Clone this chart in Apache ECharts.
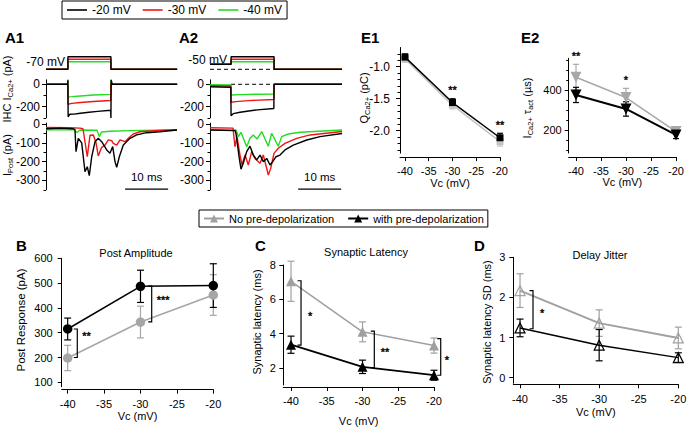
<!DOCTYPE html>
<html><head><meta charset="utf-8">
<script src="https://cdn.jsdelivr.net/npm/echarts@6/dist/echarts.min.js"></script>
<style>html,body{margin:0;padding:0;background:#fff}#c{width:688px;height:428px}</style>
</head><body><div id="c"></div>
<script>
// ---------------- DATA ----------------
// Panel A1 (time ms, value)
const a1Volt20 = [[0,-70],[5.1,-70],[5.1,-20],[15.1,-20],[15.1,-70],[30.5,-70]];
const a1Volt30 = [[0,-70],[5.1,-70],[5.1,-30],[15.1,-30],[15.1,-70],[30.5,-70]];
const a1Volt40 = [[0,-70],[5.1,-70],[5.1,-40],[15.1,-40],[15.1,-70],[30.5,-70]];
const a1Ica20 = [[0,0],[5.05,0],[5.1,40],[5.15,-290],[5.5,-268],[6.5,-266],[8,-258],[10,-250],[12,-242],[15.05,-232],[15.1,-300],[15.15,38],[15.4,0],[30.5,0]];
const a1Ica30 = [[0,0],[5.05,0],[5.1,-178],[6,-170],[8,-162],[11,-153],[15.05,-145],[15.1,0],[30.5,0]];
const a1Ica40 = [[0,0],[5.05,0],[5.1,30],[5.15,-112],[6,-110],[8,-104],[11,-96],[15.05,-90],[15.1,42],[15.2,0],[30.5,0]];
const a1Post20 = [[0,-25],[3.26,-22],[6.28,-25],[6.74,-30],[6.98,-147],[7.51,-76],[8.3,-100],[9.07,-254],[9.6,-227],[10.07,-275],[10.63,-174],[11.4,-94],[12.16,-76],[12.95,-94],[14.12,-138],[14.88,-156],[15.51,-120],[16.05,-200],[16.44,-230],[17.05,-174],[17.98,-112],[19.53,-76],[21.09,-58],[23.42,-46],[26.51,-41],[30.47,-32]];
const a1Post30 = [[0,-18],[5.58,-20],[7.9,-22],[8.6,-25],[9.6,-174],[10.23,-60],[11.0,-58],[11.63,-100],[12.16,-170],[12.95,-124],[13.72,-112],[14.49,-84],[15.28,-88],[15.65,-103],[16.44,-112],[17.21,-84],[18.37,-94],[19.14,-76],[20.3,-53],[21.86,-41],[25.35,-36],[30.47,-30]];
const a1Post40 = [[0,-30],[6.51,-30],[7.21,-45],[7.9,-32],[11.86,-33],[12.4,-67],[12.9,-42],[14.88,-38],[19.53,-35],[30.47,-30]];
// Panel A2
const a2Volt20 = [[0,-50],[4.9,-50],[4.9,-20],[14.9,-20],[14.9,-70],[30.7,-70]];
const a2Volt30 = [[0,-50],[4.9,-50],[4.9,-30],[14.9,-30],[14.9,-70],[30.7,-70]];
const a2Volt40 = [[0,-50],[4.9,-50],[4.9,-40],[14.9,-40],[14.9,-70],[30.7,-70]];
const a2VoltRef = [[0,-70],[14.9,-70]];
const a2IcaRef = [[4.9,0],[14.9,0]];
const a2Ica20 = [[0,-22],[4.85,-26],[4.9,-280],[5.4,-262],[7,-250],[9,-238],[11,-228],[14.85,-216],[14.9,0],[30.7,0]];
const a2Ica30 = [[0,-12],[4.85,-15],[4.9,-160],[6,-155],[9,-146],[14.85,-136],[14.9,0],[30.7,0]];
const a2Ica40 = [[0,-4],[4.85,-6],[4.9,-96],[7,-92],[11,-89],[14.85,-87],[14.9,0],[30.7,0]];
const a2Post20 = [[0,-32],[5.81,-35],[6.05,-50],[6.81,-183],[7.21,-240],[7.74,-209],[8.53,-147],[9.3,-118],[10.07,-165],[10.86,-191],[11.63,-165],[12.4,-200],[13.19,-183],[13.95,-218],[14.58,-200],[15.35,-174],[16.28,-165],[17.44,-138],[19.37,-112],[22.49,-85],[25.58,-67],[30.7,-50]];
const a2Post30 = [[0,-20],[5.35,-22],[5.81,-121],[6.28,-67],[6.98,-165],[7.44,-218],[8.14,-165],[8.91,-218],[9.7,-147],[10.47,-183],[11.63,-209],[12.4,-165],[13.56,-271],[14.12,-236],[14.88,-156],[15.88,-129],[17.44,-103],[20.16,-76],[23.26,-58],[30.7,-40]];
const a2Post40 = [[0,-30],[6.05,-32],[6.58,-67],[7.21,-44],[8.53,-121],[9.3,-76],[10.07,-58],[10.93,-80],[12.02,-40],[13.56,-118],[14.35,-49],[15.88,-118],[16.67,-67],[18.21,-53],[20.93,-44],[30.7,-32]];
const scaleBarA1 = [[18.4,-346]];
const scaleBarA2 = [[20.5,-346]];
const scaleBarLen = 10;
const icaLabelTicks = [0,-200], icaMinorTicks = [-100,-300];
const postLabelTicks = [0,-100,-200,-300], postMinorTicks = [-50,-150,-250,-350];

// Shared x (Vc)
const vcLevels = [-40,-30,-20];
const vcTicks = [-40,-35,-30,-25,-20];

// E1  Q Ca2+ (pC)
const e1WithMean = [-0.85,-1.56,-2.11], e1WithErr = [0.05,0.06,0.07];
const e1NoMean = [-0.88,-1.60,-2.17], e1NoErr = [0.05,0.06,0.07];
const e1Ticks = [-1.0,-1.5,-2.0];
const e1Minor = [-0.8,-0.9,-1.1,-1.2,-1.3,-1.4,-1.6,-1.7,-1.8,-1.9,-2.1,-2.2,-2.3];
const e1StarX = [-30,-20], e1StarY = [-1.31,-1.86], e1StarText = ['**','**'];
// E2  tau act (us)
const e2NoMean = [463,362,192], e2NoErr = [65,46,15];
const e2WithMean = [375,305,175], e2WithErr = [38,36,18];
const e2Ticks = [200,400];
const e2Minor = [100,150,250,300,350,450,500,550];
const e2StarX = [-40,-30], e2StarY = [585,465], e2StarText = ['**','*'];
// B  Post amplitude (pA)
const bWithMean = [315,487,490], bWithErr = [44,65,88];
const bNoMean = [198,343,452], bNoErr = [51,64,82];
const bTicks = [100,200,300,400,500,600];
const bBrX = [-38.68,-28.46], bBrTop = [315,488], bBrBot = [200,344];
const bStarX = [-37.4,-26.9], bStarY = [299,445], bStarText = ['**','***'];
// C  Synaptic latency (ms)
const cNoMean = [7.05,4.1,3.3], cNoErr = [1.17,0.58,0.44];
const cWithMean = [3.35,2.06,1.57], cWithErr = [0.5,0.39,0.29];
const cTicks = [2,4,6,8];
const cBrX = [-38.6,-28.35,-19.06], cBrTop = [7.08,4.14,3.7], cBrBot = [3.33,2.02,1.57];
const cStarX = [-37.34,-26.85,-18.18], cStarY = [5.2,3.09,2.63], cStarText = ['*','**','*'];
// D  Delay jitter (ms)
const dNoMean = [2.17,1.36,0.99], dNoErr = [0.42,0.33,0.27];
const dWithMean = [1.24,0.81,0.5], dWithErr = [0.22,0.39,0.12];
const dTicks = [0,1,2,3];
const dBrX = [-38.36], dBrTop = [2.17], dBrBot = [1.22];
const dStarX = [-37.22], dStarY = [1.69], dStarText = ['*'];

// ---------------- STYLE HELPERS ----------------
const F = '"Liberation Sans", Arial, sans-serif';
const BLACK = '#000', GREY = '#a0a0a0', RED = '#f01515', GREEN = '#22dd22';

function G(l,t,w,h){return {left:l,top:t,width:w,height:h,containLabel:false,outerBoundsMode:'none'};}
const grids = [
  G(46,56.3,133.3,13.5), G(46,79.8,133.3,38.1), G(46,123.1,133.3,66.7),
  G(210,56.3,133.3,13.5), G(210,79.8,133.3,38.1), G(210,123.1,133.3,66.7),
  G(400,47.5,100,105.6), G(568.7,58.3,107.3,94.7),
  G(61.7,258.3,151.6,128.4), G(283.3,265,150.7,120), G(513.3,257.3,165,126)
];
function hidX(gi){return {type:'value',gridIndex:gi,min:0,max:31,show:false};}
function hidY(gi){return {type:'value',gridIndex:gi,min:-72,max:-18,show:false};}
function vcX(gi,min,offset,margin,gap){return {type:'value',gridIndex:gi,position:'bottom',min:min,max:-20,offset:offset,
  axisLine:{show:true,onZero:false,lineStyle:{color:'#000',width:1}},
  axisTick:{show:true,length:4,customValues:vcTicks,lineStyle:{color:'#000',width:1}},
  axisLabel:{show:true,customValues:vcTicks,margin:margin,color:'#000',fontSize:11,fontFamily:F},
  splitLine:{show:false},name:'Vc (mV)',nameLocation:'middle',nameGap:gap,
  nameTextStyle:{color:'#000',fontSize:11,fontFamily:F}};}
function yAx(gi,min,max,ticks,margin,fs,fmt){return {type:'value',gridIndex:gi,position:'left',min:min,max:max,
  axisLine:{show:true,onZero:false,lineStyle:{color:'#000',width:1}},
  axisTick:{show:true,length:4,customValues:ticks,lineStyle:{color:'#000',width:1}},
  axisLabel:{show:true,customValues:ticks,margin:margin,color:'#000',fontSize:fs,fontFamily:F,formatter:fmt},
  splitLine:{show:false}};}
function minY(gi,min,max,ticks){return {type:'value',gridIndex:gi,position:'left',min:min,max:max,
  axisLine:{show:false,onZero:false},axisTick:{show:true,length:2.5,customValues:ticks,lineStyle:{color:'#000',width:1}},
  axisLabel:{show:false},splitLine:{show:false}};}

const xAxes = [hidX(0),hidX(1),hidX(2),hidX(3),hidX(4),hidX(5),
  vcX(6,-41.05,4,8,19), vcX(7,-41.46,4,8,19), vcX(8,-40.82,3,8.5,20), vcX(9,-41.08,2,8,28), vcX(10,-40.85,1,9,22)];
const yAxes = [
  hidY(0), yAx(1,-300,40,icaLabelTicks,6,12), yAx(2,-350,5,postLabelTicks,6,12),
  hidY(3), yAx(4,-300,40,icaLabelTicks,6,12), yAx(5,-350,5,postLabelTicks,6,12),
  yAx(6,-2.35,-0.7,e1Ticks,10,12,v=>v.toFixed(1)), yAx(7,85,558,e2Ticks,7,11),
  yAx(8,82.3,600,bTicks,9,11), yAx(9,1,8,cTicks,7.5,11), yAx(10,-0.14,3,dTicks,8,11),
  minY(1,-300,40,icaMinorTicks), minY(2,-350,5,postMinorTicks),
  minY(4,-300,40,icaMinorTicks), minY(5,-350,5,postMinorTicks),
  minY(6,-2.35,-0.7,e1Minor), minY(7,85,558,e2Minor)
];

function trace(name,color,data,ai,dash,w){return {type:'line',name:name,data:data,xAxisIndex:ai,yAxisIndex:ai,
  showSymbol:false,symbol:'none',silent:true,animation:false,clip:false,
  lineStyle:{color:color,width:w||1.4,type:dash?[4,3]:'solid'},itemStyle:{color:color},emphasis:{disabled:true}};}
function pts(ys){return vcLevels.map((x,i)=>[x,ys[i]]);}
function dline(name,ys,ai,color,symbol,size,lw,opt){opt=opt||{};return {type:'line',name:name,data:pts(ys),xAxisIndex:ai,yAxisIndex:ai,
  symbol:symbol,symbolSize:size,symbolRotate:opt.rot||0,showSymbol:true,silent:true,animation:false,clip:false,z:opt.z||4,
  lineStyle:{color:opt.lineColor||color,width:lw},
  itemStyle:opt.open?{color:'rgba(255,255,255,0)',borderColor:color,borderWidth:1.2}:{color:color,borderWidth:0},
  emphasis:{disabled:true}};}
function errs(ys,es,ai,color,cap,z){return {type:'custom',xAxisIndex:ai,yAxisIndex:ai,silent:true,animation:false,clip:false,z:z||3,
  data:vcLevels.map((x,i)=>[x,ys[i],es[i]]),encode:{x:0,y:1},
  renderItem:function(p,api){const x=api.value(0),m=api.value(1),e=api.value(2);
    const a=api.coord([x,m+e]),b=api.coord([x,m-e]);const s={stroke:color,lineWidth:1.2,fill:null};
    return {type:'group',children:[
      {type:'line',shape:{x1:a[0],y1:a[1],x2:b[0],y2:b[1]},style:s},
      {type:'line',shape:{x1:a[0]-cap,y1:a[1],x2:a[0]+cap,y2:a[1]},style:s},
      {type:'line',shape:{x1:b[0]-cap,y1:b[1],x2:b[0]+cap,y2:b[1]},style:s}]};}};}
function brackets(xs,tops,bots,ai){return {type:'custom',xAxisIndex:ai,yAxisIndex:ai,silent:true,animation:false,clip:false,z:5,
  data:xs.map((x,i)=>[x,tops[i],bots[i]]),encode:{x:0,y:1},
  renderItem:function(p,api){const a=api.coord([api.value(0),api.value(1)]),b=api.coord([api.value(0),api.value(2)]);
    return {type:'polyline',shape:{points:[[a[0]-3.5,a[1]],[a[0],a[1]],[b[0],b[1]],[b[0]-3.5,b[1]]]},style:{stroke:'#000',lineWidth:1.2,fill:null}};}};}
function txtStyle(text,font){return {text:text,fill:'#000',textFill:'#000',font:font,align:'center',verticalAlign:'middle',textAlign:'center',textVerticalAlign:'middle'};}
function stars(xs,ys,texts,ai){return {type:'scatter',xAxisIndex:ai,yAxisIndex:ai,silent:true,animation:false,clip:false,z:6,
  symbol:'circle',symbolSize:0.01,itemStyle:{color:'rgba(0,0,0,0)'},
  data:xs.map((x,i)=>[x,ys[i]]),
  label:{show:true,position:'inside',offset:[0,3],formatter:function(p){return texts[p.dataIndex];},
    color:'#000',fontSize:11,fontFamily:F,textBorderColor:'#000',textBorderWidth:0.6},
  emphasis:{disabled:true}};}
function scaleBar(bar,ai){return {type:'custom',xAxisIndex:ai,yAxisIndex:ai,silent:true,animation:false,clip:false,z:6,
  itemStyle:{color:'#000'},
  data:bar,encode:{x:0,y:1},
  renderItem:function(p,api){const a=api.coord([api.value(0),api.value(1)]),b=api.coord([api.value(0)+scaleBarLen,api.value(1)]);
    return {type:'group',children:[
      {type:'line',shape:{x1:a[0],y1:a[1],x2:b[0],y2:b[1]},style:{stroke:'#000',lineWidth:1.3}},
      {type:'text',x:(a[0]+b[0])/2,y:a[1]-12,style:txtStyle('10 ms','11.5px '+F)}]};}};}

const series = [
  // A1
  trace('-40 mV',GREEN,a1Volt40,0), trace('-30 mV',RED,a1Volt30,0), trace('-20 mV',BLACK,a1Volt20,0),
  trace('-40 mV',GREEN,a1Ica40,1), trace('-30 mV',RED,a1Ica30,1), trace('-20 mV',BLACK,a1Ica20,1),
  trace('-40 mV',GREEN,a1Post40,2), trace('-30 mV',RED,a1Post30,2), trace('-20 mV',BLACK,a1Post20,2),
  scaleBar(scaleBarA1,2),
  // A2
  trace('ref',BLACK,a2VoltRef,3,true,1), trace('ref',BLACK,a2IcaRef,4,true,1),
  trace('-40 mV',GREEN,a2Volt40,3), trace('-30 mV',RED,a2Volt30,3), trace('-20 mV',BLACK,a2Volt20,3),
  trace('-40 mV',GREEN,a2Ica40,4), trace('-30 mV',RED,a2Ica30,4), trace('-20 mV',BLACK,a2Ica20,4),
  trace('-40 mV',GREEN,a2Post40,5), trace('-30 mV',RED,a2Post30,5), trace('-20 mV',BLACK,a2Post20,5),
  scaleBar(scaleBarA2,5),
  // C (named for legend)
  dline('No pre-depolarization',cNoMean,9,GREY,'triangle',10,1.5),
  dline('with pre-depolarization',cWithMean,9,BLACK,'triangle',10,1.8,{z:5}),
  errs(cNoMean,cNoErr,9,GREY,3.5), errs(cWithMean,cWithErr,9,BLACK,3.5),
  brackets(cBrX,cBrTop,cBrBot,9), stars(cStarX,cStarY,cStarText,9),
  // E1
  dline('E1 no',e1NoMean,6,'#c4c4c4','rect',7,1.5),
  dline('E1 with',e1WithMean,6,BLACK,'rect',7,1.5,{z:5}),
  errs(e1NoMean,e1NoErr,6,'#c4c4c4',3), errs(e1WithMean,e1WithErr,6,BLACK,3),
  stars(e1StarX,e1StarY,e1StarText,6),
  // E2
  dline('E2 no',e2NoMean,7,'#a8a8a8','triangle',11,1.5,{rot:180}),
  dline('E2 with',e2WithMean,7,BLACK,'triangle',11,2,{rot:180,z:5}),
  errs(e2NoMean,e2NoErr,7,'#a8a8a8',3), errs(e2WithMean,e2WithErr,7,BLACK,3),
  stars(e2StarX,e2StarY,e2StarText,7),
  // B
  dline('B no',bNoMean,8,'#a6a6a6','circle',9.5,1.5),
  dline('B with',bWithMean,8,BLACK,'circle',9.5,1.5,{z:5}),
  errs(bNoMean,bNoErr,8,'#a6a6a6',3.5), errs(bWithMean,bWithErr,8,BLACK,3.5),
  brackets(bBrX,bBrTop,bBrBot,8), stars(bStarX,bStarY,bStarText,8),
  // D
  dline('D no',dNoMean,10,'#a0a0a0','triangle',10,2,{open:true}),
  dline('D with',dWithMean,10,BLACK,'triangle',10,1.5,{open:true,z:5}),
  errs(dNoMean,dNoErr,10,'#a0a0a0',3.5), errs(dWithMean,dWithErr,10,BLACK,3.5),
  brackets(dBrX,dBrTop,dBrBot,10), stars(dStarX,dStarY,dStarText,10)
];

function T(text,x,y,font,align){return {type:'text',x:x,y:y,silent:true,style:{text:text,font:font,fill:'#000',textFill:'#000',
  align:align||'center',verticalAlign:'middle',textAlign:align||'center',textVerticalAlign:'middle'}};}
function R(text,x,y,fs,sub){return {type:'text',x:x,y:y,rotation:Math.PI/2,silent:true,style:{text:text,fill:'#000',
  align:'center',verticalAlign:'middle',textAlign:'center',textVerticalAlign:'middle',
  rich:{m:{fontSize:fs,fontFamily:F,fill:'#000',verticalAlign:'top',lineHeight:13},
        s:{fontSize:sub,fontFamily:F,fill:'#000',verticalAlign:'bottom',lineHeight:13}}}};}
const bold = 'bold 15px '+F;
const graphics = [
  T('A1',5,37,bold,'left'), T('A2',179,37,bold,'left'), T('E1',361,37,bold,'left'), T('E2',521,37,bold,'left'),
  T('B',16,245,bold,'left'), T('C',255,245,bold,'left'), T('D',474,245,bold,'left'),
  T('Post Amplitude',136,253,'11px '+F), T('Synaptic Latency',366,252,'11px '+F), T('Delay Jitter',600,255,'11px '+F),
  T('-70 mV',65,62,'12px '+F,'right'), T('-50 mV',227,60,'12px '+F,'right'),
  R('{m|IHC I}{s|Ca2+}{m| (pA)}',8,89,11,7.5),
  R('{m|I}{s|Post}{m| (pA)}',8,155,11,7.5),
  R('{m|Q}{s|Ca2+}{m| (pC)}',365,98,11,7.5),
  R('{m|I}{s|Ca2+}{m| τ}{s|act}{m| (µs)}',528,108,11,7.5),
  R('{m|Post Response (pA)}',21.7,320,11.5,8),
  R('{m|Synaptic latency (ms)}',258,322,11,8),
  R('{m|Synaptic latency SD (ms)}',488,322,11,8)
];

const chart = echarts.init(document.getElementById('c'), null, {renderer:'svg', width:688, height:428});
chart.setOption({
  animation:false,
  backgroundColor:'#fff',
  textStyle:{fontFamily:F,color:'#000'},
  grid:grids, xAxis:xAxes, yAxis:yAxes, series:series, graphic:graphics,
  legend:[
    {data:['-20 mV','-30 mV','-40 mV'],left:62,top:1,orient:'horizontal',icon:'rect',itemWidth:20,itemHeight:1.6,itemGap:12,
     padding:[3,5,3,5],borderColor:'#000',borderWidth:1,borderRadius:0,selectedMode:false,
     textStyle:{fontSize:12,color:'#000',fontFamily:F}},
    {data:['No pre-depolarization','with pre-depolarization'],left:199,top:210,orient:'horizontal',itemWidth:20,itemHeight:10,itemGap:13,
     padding:[3,4,3,4],borderColor:'#000',borderWidth:1,borderRadius:0,selectedMode:false,
     textStyle:{fontSize:11,color:'#000',fontFamily:F}}
  ]
});
</script></body></html>
